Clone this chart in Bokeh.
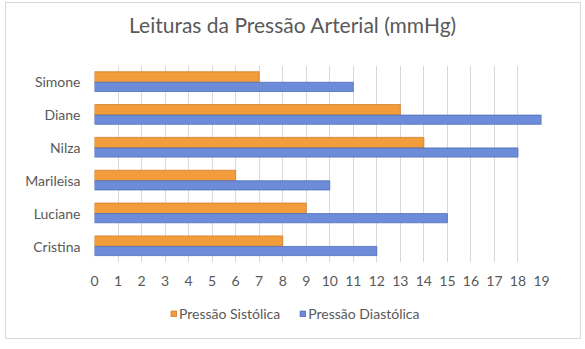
from bokeh.plotting import figure
from bokeh.layouts import column
from bokeh.models import (FactorRange, Range1d, FixedTicker, ColumnDataSource, Legend,
                          LegendItem, Label)
from bokeh.transform import dodge
from bokeh.embed import file_html
from bokeh.resources import INLINE

names = ["Cristina", "Luciane", "Marileisa", "Nilza", "Diane", "Simone"]
sistolica = [8, 9, 6, 14, 13, 7]
diastolica = [12, 15, 10, 18, 19, 11]
x_ticks = list(range(0, 20))
series_labels = ["Pressão Sistólica", "Pressão Diastólica"]
title_text = "Leituras da Pressão Arterial (mmHg)"

FONT = "Lato"
GREY = "#595959"
ORANGE, ORANGE_EDGE = "#F39C3C", "#D07E2A"
BLUE, BLUE_EDGE = "#6C8CD9", "#4F6DB8"

src = ColumnDataSource(dict(names=names, sis=sistolica, dia=diastolica))

# ---- title strip ----
pt = figure(width=574, height=48, x_range=Range1d(0, 1), y_range=Range1d(0, 1),
            output_backend="svg", toolbar_location=None,
            x_axis_location=None, y_axis_location=None,
            min_border=0, min_border_left=0, min_border_right=0, min_border_top=0, min_border_bottom=0)
pt.grid.visible = False
pt.outline_line_color = None
pt.add_layout(Label(x=0.444, y=0.56, text=title_text, text_align="center", text_baseline="middle",
                    text_font=FONT, text_font_size="21px", text_color=GREY))

# ---- main chart ----
p = figure(frame_width=447, frame_height=197, y_range=FactorRange(*names), x_range=Range1d(0, 19),
           output_backend="svg", toolbar_location=None,
           min_border_left=88, min_border_right=39, min_border_top=14, min_border_bottom=31)

p.hbar(y=dodge("names", 0.15, range=p.y_range), right="sis", left=0, height=0.32,
       source=src, fill_color=ORANGE, line_color=ORANGE_EDGE, line_width=0.8)
p.hbar(y=dodge("names", -0.15, range=p.y_range), right="dia", left=0, height=0.28,
       source=src, fill_color=BLUE, line_color=BLUE_EDGE, line_width=0.8)

p.xaxis.ticker = FixedTicker(ticks=x_ticks)
p.xaxis.axis_line_color = None
p.xaxis.major_tick_line_color = None
p.xaxis.minor_tick_line_color = None
p.xaxis.major_label_standoff = 7
p.xaxis.major_label_text_font = FONT
p.xaxis.major_label_text_font_size = "14px"
p.xaxis.major_label_text_color = GREY

p.yaxis.axis_line_color = None
p.yaxis.major_tick_line_color = None
p.yaxis.minor_tick_line_color = None
p.yaxis.major_label_standoff = 8
p.yaxis.major_label_text_font = FONT
p.yaxis.major_label_text_font_size = "14px"
p.yaxis.major_label_text_color = GREY

p.ygrid.grid_line_color = None
p.xgrid.grid_line_color = "#d9d9d9"
p.outline_line_color = None

# ---- legend strip (swatches only; series drawn above) ----
pl = figure(width=574, height=45, x_range=Range1d(0, 19), y_range=FactorRange(*names),
            output_backend="svg", toolbar_location=None,
            x_axis_location=None, y_axis_location=None,
            min_border=0, min_border_left=0, min_border_right=0, min_border_top=0, min_border_bottom=0)
pl.grid.visible = False
pl.outline_line_color = None
l1 = pl.hbar(y="names", right="sis", left=0, height=0.3, source=src,
             fill_color=ORANGE, line_color=ORANGE_EDGE, visible=False)
l2 = pl.hbar(y="names", right="dia", left=0, height=0.3, source=src,
             fill_color=BLUE, line_color=BLUE_EDGE, visible=False)
legend = Legend(items=[LegendItem(label=series_labels[0], renderers=[l1]),
                       LegendItem(label=series_labels[1], renderers=[l2])],
                orientation="horizontal", location=(76, 16),
                glyph_width=7, glyph_height=7, label_standoff=2, spacing=19,
                label_text_font=FONT, label_text_font_size="14px", label_text_color=GREY,
                background_fill_alpha=0, border_line_color=None, padding=2, margin=0)
pl.add_layout(legend, "center")

layout = column(pt, p, pl, spacing=0, margin=(2, 0, 0, 5),
                styles={"border": "1px solid #d9d9d9"})

open("out.html", "w").write(file_html(layout, INLINE))
